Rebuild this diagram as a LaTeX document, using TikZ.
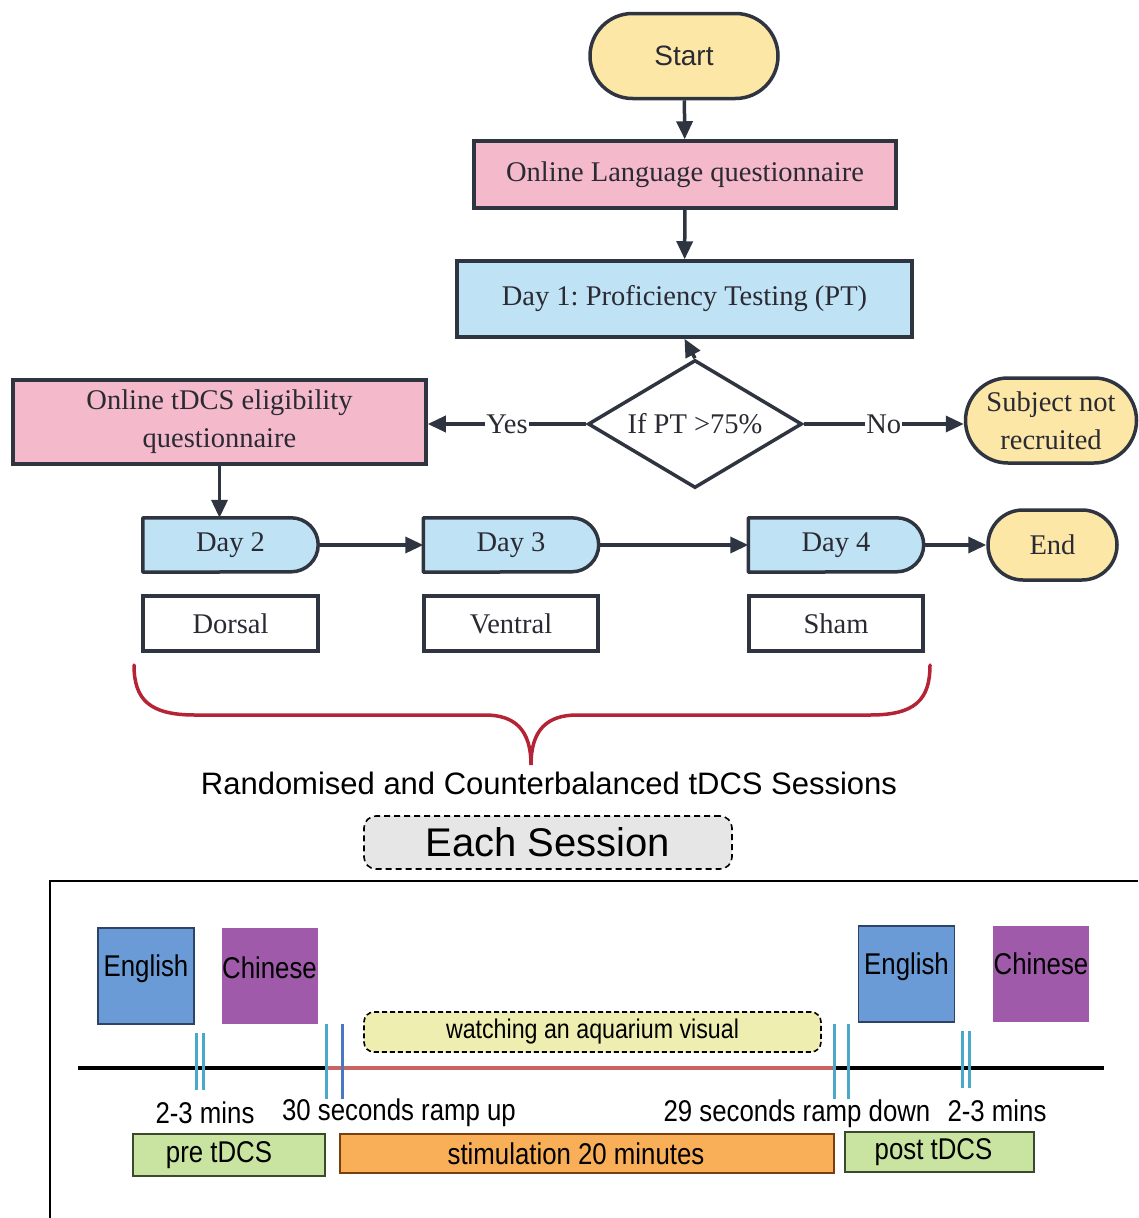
\documentclass[tikz,border=0pt]{standalone}
\usepackage{fontspec}
\setmainfont{Liberation Serif}
\newfontfamily\sansf{Liberation Sans}
\newfontfamily\narrowf[FakeStretch=0.86]{Liberation Sans}
\usetikzlibrary{shapes.geometric,shapes.misc,arrows.meta,backgrounds}
\definecolor{edge}{HTML}{2F3540}
\definecolor{txt}{HTML}{2A2A33}
\definecolor{termY}{HTML}{FCE7A6}
\definecolor{pinkF}{HTML}{F4B9CA}
\definecolor{blueF}{HTML}{C0E2F5}
\definecolor{engB}{HTML}{6B9BD6}
\definecolor{engE}{HTML}{2E4466}
\definecolor{chiP}{HTML}{A05AAA}
\definecolor{greenF}{HTML}{C8E4A0}
\definecolor{greenE}{HTML}{3A4A2A}
\definecolor{orangeF}{HTML}{F9AE58}
\definecolor{orangeE}{HTML}{7A3E10}
\definecolor{aquaF}{HTML}{EEEEB0}
\definecolor{tealT}{HTML}{4BA8C8}
\definecolor{blueT}{HTML}{4A78C0}
\definecolor{redL}{HTML}{C86464}
\definecolor{braceC}{HTML}{B52436}
\definecolor{grayF}{HTML}{E6E6E6}
\tikzset{
  box/.style={draw=edge, line width=3.5pt, font=\fontsize{28.5}{38}\selectfont, text=txt, align=center, inner sep=0pt},
  rectbox/.style={box, rectangle},
  term/.style={box, rounded rectangle, fill=termY},
  daybox/.style={font=\fontsize{28.5}{34}\selectfont, text=txt, minimum width=175pt, minimum height=54pt, inner sep=0pt},
  dayedge/.style={draw=edge, line width=3.5pt, fill=blueF, line join=round},
  conn/.style={draw=edge, line width=3.5pt, -{Triangle[length=18pt,width=16pt]}},
  lbl/.style={fill=white, inner sep=1pt, font=\fontsize{28.5}{34}\selectfont, text=txt},
  langbox/.style={minimum width=96pt, minimum height=96pt, inner sep=0pt, font=\narrowf\fontsize{30}{34}\selectfont, text=black},
  tick/.style={line width=3pt},
  tlabel/.style={font=\narrowf\fontsize{30}{34}\selectfont, text=black, inner sep=0pt},
  bar/.style={line width=2pt, inner sep=0pt, font=\narrowf\fontsize{30}{34}\selectfont, text=black}
}
\frenchspacing
\begin{document}
\begin{tikzpicture}[x=1pt,y=-1pt]
\begin{scope}[on background layer]
\fill[white] (0,0) rectangle (1138,1218);
\end{scope}
\useasboundingbox (0,0) rectangle (1138,1218);

% flowchart nodes
\node[term, minimum width=188pt, minimum height=85pt, font=\sansf\fontsize{28}{34}\selectfont] (start) at (684,56) {Start};
\node[rectbox, fill=pinkF, minimum width=422pt, minimum height=67pt] (olq) at (685,174.5) {Online Language questionnaire};
\node[rectbox, fill=blueF, minimum width=455pt, minimum height=76pt] (day1) at (684.5,299) {Day 1: Proficiency Testing (PT)};
\node[box, diamond, fill=white, aspect=1.67, minimum width=214pt, minimum height=128pt] (dia) at (695,424) {If PT >75\%};
\node[rectbox, fill=pinkF, minimum width=413pt, minimum height=84pt] (elig) at (219.5,422) {Online tDCS eligibility\\questionnaire};
\node[term, minimum width=171pt, minimum height=85pt] (nrec) at (1051,420.5) {Subject not\\recruited};

\node[daybox] (d2) at (230.5,545) {Day 2};
\node[daybox] (d3) at (511,545) {Day 3};
\node[daybox] (d4) at (836,545) {Day 4};
\begin{scope}[on background layer]
\foreach \d in {d2,d3,d4}{
  \draw[dayedge] (\d.north west) -- ([xshift=-27pt]\d.north east) arc[start angle=-90,end angle=90,radius=27] -- (\d.south west) -- cycle;
}
\end{scope}
\node[term, minimum width=129pt, minimum height=70pt] (endn) at (1052.5,545) {End};

\node[rectbox, fill=white, minimum width=175pt, minimum height=55pt] (dors) at (230.5,623.5) {Dorsal};
\node[rectbox, fill=white, minimum width=174pt, minimum height=55pt] (vent) at (511,623.5) {Ventral};
\node[rectbox, fill=white, minimum width=174pt, minimum height=55pt] (sham) at (836,623.5) {Sham};

% connectors
\draw[conn] (start) -- (olq);
\draw[conn] (olq) -- (day1);
\draw[conn] (dia.north) -- (day1.south);
\draw[conn] (dia.west) -- node[lbl]{Yes} (elig.east |- dia.west);
\draw[conn] (dia.east) -- node[lbl]{No} (nrec.west |- dia.east);
\draw[conn] (elig.south) -- (elig.south |- d2.north);
\draw[conn] (d2.east) -- (d3.west);
\draw[conn] (d3.east) -- (d4.west);
\draw[conn] (d4.east) -- (endn.west);

% brace
\draw[braceC, line width=3.5pt, line cap=round] (134,665) .. controls (134,700) and (150,715) .. (195,715) -- (485,715) .. controls (515,715) and (531,730) .. (531,765) .. controls (531,730) and (547,715) .. (577,715) -- (870,715) .. controls (915,715) and (930,700) .. (930,665);
\node[font=\sansf\fontsize{31}{36}\selectfont, text=black, inner sep=0pt] (rand) at (549,783) {Randomised and Counterbalanced tDCS Sessions};

\node[draw=black, dash pattern=on 6pt off 4pt, line width=1.6pt, rounded corners=12pt, fill=grayF, minimum width=368pt, minimum height=53pt, font=\sansf\fontsize{40}{44}\selectfont, text=black] (each) at (548,842.5) {Each Session};

% bottom panel frame
\draw[line width=2.5pt] (50,1218) -- (50,881) -- (1138,881);

% language boxes
\node[langbox, fill=engB, draw=engE, line width=1.5pt] (en1) at (146,976) {\raisebox{0pt}[0pt][0pt]{English}};
\node[langbox, fill=chiP] (ch1) at (269.5,976) {\raisebox{-2pt}[0pt][0pt]{Chinese}};
\node[langbox, fill=engB, draw=engE, line width=1.5pt] (en2) at (906.5,974) {\raisebox{0pt}[0pt][0pt]{English}};
\node[langbox, fill=chiP] (ch2) at (1041,974) {\raisebox{0pt}[0pt][0pt]{Chinese}};

% aquarium
\node[draw=black, dash pattern=on 5pt off 3pt, line width=1.6pt, rounded corners=10pt, fill=aquaF, minimum width=457pt, minimum height=40pt, inner sep=0pt, font=\narrowf\fontsize{27}{30}\selectfont, text=black] (aq) at (592.5,1032) {watching an aquarium visual};

% timeline
\draw[line width=4pt, black] (78,1068) -- (1104,1068);
\draw[line width=4pt, redL] (328,1068) -- (834,1068);

% ticks
\draw[tick, tealT] (196,1033) -- (196,1090);
\draw[tick, tealT] (203,1033) -- (203,1090);
\draw[tick, tealT] (326,1024) -- (326,1099);
\draw[tick, blueT] (342,1024) -- (342,1099);
\draw[tick, tealT] (834,1024) -- (834,1099);
\draw[tick, tealT] (848,1024) -- (848,1099);
\draw[tick, tealT] (962,1031) -- (962,1088);
\draw[tick, tealT] (969,1031) -- (969,1088);

% labels
\node[tlabel] (l1) at (205,1113) {2-3 mins};
\node[tlabel] (l2) at (399,1113) {30 seconds ramp up};
\node[tlabel] (l3) at (797,1114) {29 seconds ramp down};
\node[tlabel] (l4) at (997,1111) {2-3 mins};

% bars
\node[bar, draw=greenE, fill=greenF, minimum width=192pt, minimum height=42pt] (pre) at (229,1155) {\hspace*{-20pt}pre tDCS};
\node[bar, draw=orangeE, fill=orangeF, minimum width=494pt, minimum height=39pt] (stim) at (587,1153.5) {\hspace*{-22pt}stimulation 20 minutes};
\node[bar, draw=greenE, fill=greenF, minimum width=189pt, minimum height=40pt] (post) at (939.5,1152) {\hspace*{-12pt}post tDCS};
\end{tikzpicture}
\end{document}
